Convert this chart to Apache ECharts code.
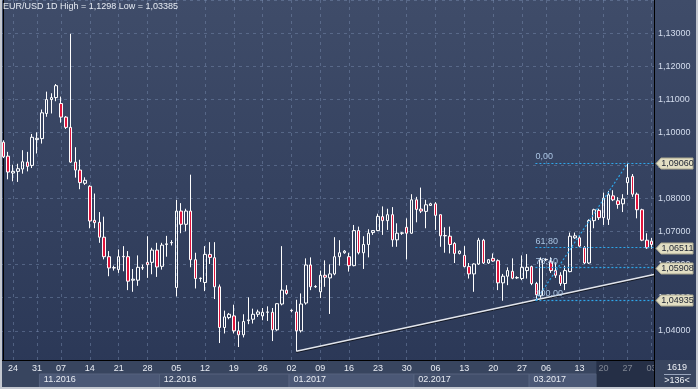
<!DOCTYPE html>
<html><head><meta charset="utf-8">
<script src="https://cdn.jsdelivr.net/npm/echarts@6/dist/echarts.min.js"></script>
<style>html,body{margin:0;padding:0;background:#2e3b59;overflow:hidden}#c{width:698px;height:389px}</style>
</head><body><div id="c"></div>
<script>
// ---- data: [open, close, low, high] per daily bar ----
const candles = [
[1.0970,1.0926,1.0922,1.0976],[1.0928,1.0880,1.0858,1.0941],[1.0877,1.0882,1.0852,1.0902],[1.0882,1.0890,1.0850,1.0905],
[1.0889,1.0911,1.0875,1.0946],[1.0910,1.0897,1.0882,1.0941],[1.0900,1.0985,1.0892,1.0995],[1.0978,1.0982,1.0936,1.1000],
[1.0981,1.1059,1.0966,1.1069],[1.1057,1.1099,1.1047,1.1123],[1.1099,1.1105,1.1057,1.1118],[1.1105,1.1141,1.1094,1.1146],
[1.1087,1.1046,1.1029,1.1108],[1.1046,1.1015,1.1010,1.1049],[1.1015,1.0910,1.0908,1.1298],[1.0910,1.0886,1.0863,1.0955],
[1.0886,1.0848,1.0828,1.0917],[1.0846,1.0855,1.0841,1.0864],[1.0837,1.0732,1.0710,1.0840],[1.0734,1.0727,1.0710,1.0815],
[1.0728,1.0683,1.0666,1.0759],[1.0683,1.0624,1.0616,1.0745],[1.0624,1.0590,1.0565,1.0641],[1.0590,1.0591,1.0582,1.0597],
[1.0585,1.0624,1.0575,1.0646],[1.0624,1.0625,1.0580,1.0656],[1.0624,1.0550,1.0523,1.0641],[1.0553,1.0556,1.0518,1.0587],
[1.0553,1.0592,1.0536,1.0628],[1.0590,1.0591,1.0584,1.0600],[1.0607,1.0600,1.0560,1.0686],[1.0607,1.0644,1.0571,1.0651],
[1.0644,1.0593,1.0563,1.0666],[1.0595,1.0659,1.0585,1.0666],[1.0661,1.0663,1.0624,1.0687],[1.0666,1.0667,1.0658,1.0674],
[1.0531,1.0762,1.0504,1.0796],[1.0762,1.0722,1.0695,1.0786],[1.0722,1.0762,1.0701,1.0769],[1.0762,1.0615,1.0592,1.0872],
[1.0615,1.0558,1.0528,1.0636],[1.0558,1.0559,1.0548,1.0561],[1.0546,1.0631,1.0520,1.0656],[1.0631,1.0622,1.0602,1.0668],
[1.0621,1.0533,1.0496,1.0668],[1.0533,1.0410,1.0363,1.0540],[1.0410,1.0442,1.0392,1.0461],[1.0440,1.0450,1.0435,1.0454],
[1.0445,1.0400,1.0392,1.0479],[1.0400,1.0388,1.0351,1.0428],[1.0388,1.0428,1.0380,1.0450],[1.0431,1.0433,1.0420,1.0501],
[1.0435,1.0450,1.0422,1.0467],[1.0450,1.0457,1.0442,1.0464],[1.0445,1.0456,1.0432,1.0469],[1.0456,1.0457,1.0430,1.0474],
[1.0456,1.0403,1.0369,1.0469],[1.0403,1.0482,1.0400,1.0483],[1.0481,1.0523,1.0477,1.0656],[1.0523,1.0513,1.0509,1.0538],
[1.0462,1.0461,1.0456,1.0465],[1.0457,1.0400,1.03385,1.0494],[1.0400,1.0481,1.0395,1.0513],[1.0484,1.0599,1.0479,1.0619],
[1.0599,1.0533,1.0523,1.0622],[1.0533,1.0534,1.0530,1.0538],[1.0518,1.0568,1.0499,1.0582],[1.0568,1.0562,1.0533,1.0613],
[1.0560,1.0572,1.0451,1.0601],[1.0572,1.0624,1.0568,1.0683],[1.0624,1.0636,1.0597,1.0674],[1.0636,1.0641,1.0633,1.0644],
[1.0624,1.0597,1.0579,1.0636],[1.0597,1.0703,1.0595,1.0720],[1.0703,1.0636,1.0631,1.0715],[1.0636,1.0661,1.0587,1.0686],
[1.0661,1.0695,1.0622,1.0707],[1.0697,1.0703,1.0690,1.0704],[1.0703,1.0746,1.0701,1.0754],[1.0745,1.0733,1.0690,1.0776],
[1.0733,1.0751,1.0705,1.0769],[1.0751,1.0675,1.0654,1.0774],[1.0675,1.0695,1.0654,1.0725],[1.0695,1.0696,1.0690,1.0698],
[1.0713,1.0695,1.0616,1.0740],[1.0695,1.0796,1.0693,1.0813],[1.0796,1.0767,1.0728,1.0805],[1.0768,1.0762,1.0756,1.0833],
[1.0761,1.0781,1.0710,1.0796],[1.0779,1.0784,1.0778,1.0787],[1.0784,1.0749,1.0705,1.0789],[1.0751,1.0687,1.0654,1.0751],
[1.0687,1.0688,1.0636,1.0713],[1.0686,1.0661,1.0634,1.0715],[1.0664,1.0634,1.0605,1.0668],[1.0634,1.0641,1.0631,1.0643],
[1.0628,1.0594,1.0592,1.0656],[1.0594,1.0572,1.0558,1.0605],[1.0572,1.0602,1.0518,1.0604],[1.0602,1.0674,1.0599,1.0681],
[1.0674,1.0605,1.0602,1.0678],[1.0605,1.0615,1.0602,1.0617],[1.0619,1.0611,1.0609,1.0634],[1.0612,1.0545,1.0523,1.0616],
[1.0545,1.0565,1.0491,1.0572],[1.0565,1.0582,1.0538,1.0592],[1.0580,1.0559,1.0556,1.0619],[1.0560,1.0561,1.0557,1.0565],
[1.0558,1.0592,1.0553,1.0628],[1.0582,1.0592,1.0558,1.0632],[1.0594,1.0543,1.0538,1.0597],[1.0543,1.0509,1.04935,1.0548],
[1.0506,1.0615,1.0500,1.0622],[1.0615,1.0616,1.0611,1.0619],[1.0609,1.0582,1.0575,1.0622],[1.0582,1.0568,1.0560,1.0607],
[1.0568,1.0543,1.0536,1.0577],[1.0543,1.0582,1.0523,1.0597],[1.0579,1.0686,1.0577,1.0697],[1.0681,1.0687,1.0678,1.0697],
[1.0681,1.0656,1.0654,1.0687],[1.0651,1.0605,1.0602,1.0656],[1.0605,1.0733,1.0602,1.0737],[1.0733,1.0766,1.0710,1.0769],
[1.0764,1.0742,1.0735,1.0769],[1.0742,1.0801,1.0720,1.0818],[1.0737,1.0811,1.0720,1.0823],[1.0808,1.0796,1.0792,1.0825],
[1.0793,1.0782,1.0769,1.0804],[1.0784,1.0799,1.0759,1.0813],[1.0848,1.0863,1.0811,1.0906],[1.0867,1.0813,1.0805,1.0874],
[1.0813,1.0766,1.0740,1.0818],[1.0766,1.0674,1.0671,1.0769],[1.0674,1.0651,1.0648,1.0695],[1.0671,1.0661,1.0648,1.0681]
];
// week tick labels: [text, bar index]
const weekLabels = [["24",2],["31",7],["07",12],["14",18],["21",24],["28",30],["05",36],["12",42],["19",48],["26",54],
  ["02",60],["09",66],["16",72],["23",78],["30",84],["06",90],["13",96],["20",102],["27",108],["06",113],["13",120],
  ["20",125],["27",130],["03",135]];
// month labels: [text, first bar index]
const monthLabels = [["11.2016",8],["12.2016",33],["01.2017",60],["02.2017",86],["03.2017",110]];
const shadedFromBar = 124;
const yMin = 1.03, yMax = 1.14, yStep = 0.01;
// Fibonacci retracement
const fibFrom = [111, 1.04935];
const fibTo = [130, 1.0906];
const fibStartBar = 110.8;
const fibLevelNames = ["0,00","61,80","76,40","100,00"];
const fibLevelValues = [1.0906, 1.06511, 1.05908, 1.04935];
const fibTagTexts = ["1,09060","1,06511","1,05908","1,04935"];
// trend line
const trendLine = [[61, 1.03385],[135.5, 1.0570]];
const titleText = "EUR/USD 1D High = 1,1298 Low = 1,03385";
const barsTotal = "1619", barsVisible = ">136<";

const N = candles.length;
const cats = candles.map((_, i) => String(i));
const weekMap = {}; weekLabels.forEach(([t, i]) => weekMap[i] = t);
const monthMap = {}; monthLabels.forEach(([t, i]) => monthMap[i] = t);
const FONT = "'Liberation Sans', Arial, sans-serif";
const FIB = '#2ea6ea';

const chart = echarts.init(document.getElementById('c'), null, {renderer: 'canvas'});
const gridL = 1, gridR = 44;
chart.setOption({
  animation: false,
  backgroundColor: {type: 'linear', x: 0, y: 0, x2: 0, y2: 1,
    colorStops: [{offset: 0, color: '#3f4c69'}, {offset: 1, color: '#2a3756'}]},
  textStyle: {fontFamily: FONT},
  title: {text: titleText, left: 3, top: 2, padding: 0,
    textStyle: {fontSize: 9, fontWeight: 'normal', color: '#e6ebf3', fontFamily: FONT}},
  grid: [
    {left: gridL, right: gridR, top: -8.9, bottom: 25.1},
    {left: gridL, right: gridR, top: 360, bottom: 0}
  ],
  xAxis: [
    {type: 'category', gridIndex: 0, data: cats, boundaryGap: true,
      axisLine: {show: false}, axisTick: {show: false}, axisLabel: {show: false},
      splitLine: {show: true, alignWithLabel: true, interval: (i) => weekMap[i] !== undefined,
        lineStyle: {color: 'rgba(125,145,180,0.45)', type: [3, 4], width: 1}}},
    {type: 'category', gridIndex: 1, data: cats, position: 'top', z: 10,
      axisLine: {show: true, lineStyle: {color: '#000', width: 1}}, axisTick: {show: false},
      splitLine: {show: false},
      axisLabel: {inside: true, margin: 4, interval: (i) => weekMap[i] !== undefined,
        formatter: (v, i) => weekMap[i] || '', color: '#e8ecf3', fontSize: 9, fontFamily: FONT}},
    {type: 'category', gridIndex: 1, data: cats, position: 'bottom', z: 10,
      axisLine: {show: false}, axisTick: {show: false}, splitLine: {show: false},
      axisLabel: {inside: true, margin: 5, align: 'left', padding: [0, 0, 0, 2],
        interval: (i) => monthMap[i] !== undefined,
        formatter: (v, i) => monthMap[i] || '', color: '#e8ecf3', fontSize: 9, fontFamily: FONT}},
    {type: 'value', gridIndex: 0, min: -0.5, max: N - 0.5, show: false}
  ],
  yAxis: [
    {type: 'value', gridIndex: 0, position: 'right', min: yMin, max: yMax, interval: yStep, scale: true,
      axisLine: {show: true, lineStyle: {color: '#000', width: 1}}, axisTick: {show: false},
      axisLabel: {margin: 4, color: '#d3dced', fontSize: 9, fontFamily: FONT, showMinLabel: false, showMaxLabel: false,
        formatter: (v) => v.toFixed(5).replace('.', ',')},
      splitLine: {show: true, lineStyle: {color: 'rgba(125,145,180,0.45)', type: [3, 4], width: 1}}},
    {type: 'value', gridIndex: 1, min: 0, max: 1, show: false}
  ],
  series: [
    {type: 'candlestick', name: 'EUR/USD', xAxisIndex: 0, yAxisIndex: 0, data: candles, barWidth: 3,
      itemStyle: {color: 'rgba(0,0,0,0)', color0: '#e0143c', borderColor: '#ffffff', borderColor0: '#ffffff',
        borderColorDoji: '#ffffff', borderWidth: 1}, z: 3},
    {type: 'line', name: 'trend', xAxisIndex: 3, yAxisIndex: 0, data: trendLine, symbol: 'none', z: 4,
      lineStyle: {color: '#e2e5ec', width: 1.5, shadowColor: 'rgba(0,0,0,0.6)', shadowOffsetY: 1, shadowBlur: 0}},
    {type: 'line', name: 'fib', xAxisIndex: 3, yAxisIndex: 0, data: [fibFrom, fibTo], symbol: 'none', z: 4,
      lineStyle: {color: FIB, width: 1.2, type: [2, 2]},
      markLine: {silent: true, symbol: 'none', animation: false,
        lineStyle: {color: FIB, width: 1.2, type: [2, 2]},
        label: {show: true, position: 'insideStartTop', distance: [0, 2], formatter: '{b}', color: '#aac4e2',
          fontSize: 9, fontFamily: FONT},
        data: fibLevelValues.map((v, k) => [{coord: [fibStartBar, v], name: fibLevelNames[k]}, {coord: [N - 0.5, v]}])}}
  ]
});

// ---- decorations positioned through the chart's own scales ----
const xb = (bar) => chart.convertToPixel({xAxisIndex: 3}, bar - 0.5);
const yv = (v) => chart.convertToPixel({yAxisIndex: 0}, v);
const rightX = chart.convertToPixel({xAxisIndex: 3}, N - 0.5);
const g = [];
g.push({type: 'rect', shape: {x: 0, y: 360, width: rightX, height: 29}, style: {fill: '#38455f'}, z: 5, silent: true});
const bandColors = ['#4b5876', '#424f6b'];
monthLabels.forEach(([t, s], k) => {
  const e = k + 1 < monthLabels.length ? monthLabels[k + 1][1] : shadedFromBar;
  const x0 = xb(s), x1 = xb(e);
  g.push({type: 'rect', shape: {x: x0, y: 374, width: x1 - x0, height: 14},
    style: {fill: bandColors[k % 2], stroke: '#56637f', lineWidth: 1}, z: 6, silent: true});
});
g.push({type: 'rect', shape: {x: xb(shadedFromBar), y: 361, width: rightX - xb(shadedFromBar), height: 28},
  style: {fill: 'rgba(18,26,46,0.5)'}, z: 20, silent: true});
g.push({type: 'rect', shape: {x: rightX + 0.5, y: 360, width: 698 - rightX, height: 29}, style: {fill: '#38455f'}, z: 21, silent: true});
g.push({type: 'line', shape: {x1: 0, y1: 360.5, x2: rightX + 1, y2: 360.5}, style: {stroke: '#000', lineWidth: 1}, z: 21, silent: true});
g.push({type: 'line', shape: {x1: rightX + 0.5, y1: 0, x2: rightX + 0.5, y2: 389}, style: {stroke: '#000', lineWidth: 1}, z: 21, silent: true});
g.push({type: 'text', x: 677, y: 368, style: {text: barsTotal, fill: '#eef1f6', fontSize: 9, fontFamily: FONT, align: 'center', verticalAlign: 'middle'}, z: 22, silent: true});
g.push({type: 'line', shape: {x1: 664, y1: 374.5, x2: 691, y2: 374.5}, style: {stroke: '#9aa6bd', lineWidth: 1}, z: 22, silent: true});
g.push({type: 'text', x: 677, y: 381, style: {text: barsVisible, fill: '#eef1f6', fontSize: 9, fontFamily: FONT, align: 'center', verticalAlign: 'middle'}, z: 22, silent: true});
fibLevelValues.forEach((v, k) => {
  const y = Math.round(yv(v)) + 0.5;
  const x0 = rightX + 2;
  g.push({type: 'polygon', shape: {points: [[x0, y], [x0 + 5, y - 5.5], [693, y - 5.5], [693, y + 5.5], [x0 + 5, y + 5.5]]},
    style: {fill: '#e2dec3', stroke: '#a9a68e', lineWidth: 1}, z: 22, silent: true});
  g.push({type: 'text', x: 677.5, y: y, style: {text: fibTagTexts[k], fill: '#222836', fontSize: 9, fontFamily: FONT,
    align: 'center', verticalAlign: 'middle'}, z: 23, silent: true});
});
// outer frame
g.push({type: 'line', shape: {x1: 1, y1: 0, x2: 1, y2: 389}, style: {stroke: '#c4c8d0', lineWidth: 2}, z: 30, silent: true});
g.push({type: 'line', shape: {x1: 697, y1: 0, x2: 697, y2: 389}, style: {stroke: '#c4c8d0', lineWidth: 2}, z: 30, silent: true});
g.push({type: 'line', shape: {x1: 0, y1: 388, x2: 698, y2: 388}, style: {stroke: '#c4c8d0', lineWidth: 2}, z: 30, silent: true});
chart.setOption({graphic: g});
</script></body></html>
